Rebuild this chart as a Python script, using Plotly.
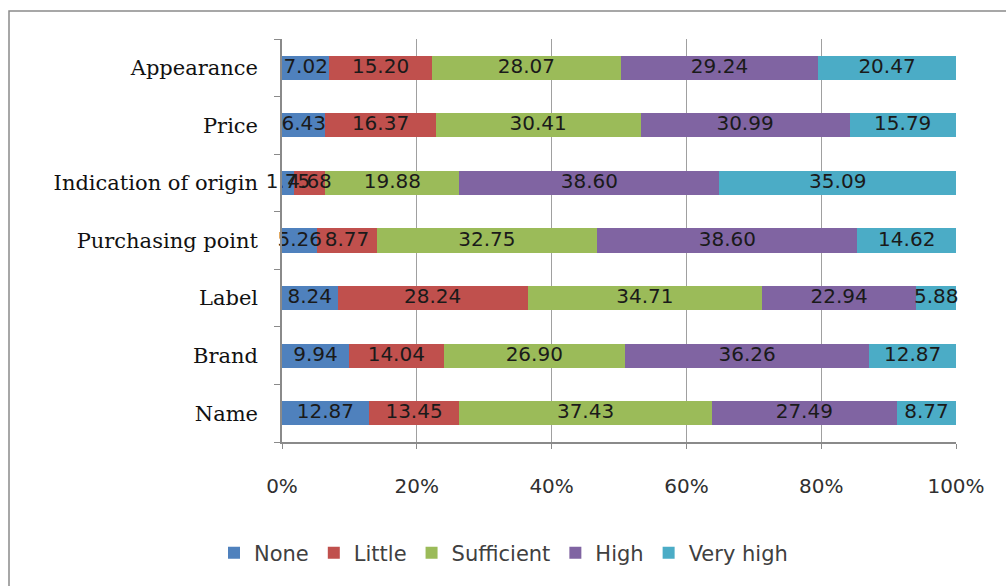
import plotly.graph_objects as go

# Attributes, listed bottom to top as they appear on the axis
attributes = ["Name", "Brand", "Label", "Purchasing point",
              "Indication of origin", "Price", "Appearance"]

# Share of respondents (%) per importance level
none_pct = [12.87, 9.94, 8.24, 5.26, 1.75, 6.43, 7.02]
little_pct = [13.45, 14.04, 28.24, 8.77, 4.68, 16.37, 15.20]
sufficient_pct = [37.43, 26.90, 34.71, 32.75, 19.88, 30.41, 28.07]
high_pct = [27.49, 36.26, 22.94, 38.60, 38.60, 30.99, 29.24]
very_high_pct = [8.77, 12.87, 5.88, 14.62, 35.09, 15.79, 20.47]

levels = ["None", "Little", "Sufficient", "High", "Very high"]
colors = ["#4F81BD", "#C0504D", "#9BBB59", "#8064A2", "#4BACC6"]
series = [none_pct, little_pct, sufficient_pct, high_pct, very_high_pct]

x_ticks = [0, 20, 40, 60, 80, 100]
x_tick_text = [f"{v}%" for v in x_ticks]

fig = go.Figure()
for name, color, vals in zip(levels, colors, series):
    fig.add_trace(go.Bar(
        y=attributes, x=vals, name=name, orientation="h",
        marker=dict(color=color, line=dict(width=0)),
        textposition="none",
    ))

# value labels centred on each segment (drawn unclipped, may overlap)
base = [0.0] * len(attributes)
for vals in series:
    mids = [b + v / 2 for b, v in zip(base, vals)]
    fig.add_trace(go.Scatter(
        x=mids, y=attributes, mode="text",
        text=[f"{v:.2f}" for v in vals], textposition="middle center",
        textfont=dict(family="DejaVu Sans", size=20, color="#1a1a1a"),
        showlegend=False, hoverinfo="skip", cliponaxis=False,
    ))
    base = [b + v for b, v in zip(base, vals)]

# page frame around the chart
L, R, T, B = 282, 50, 39, 144
W, H = 1006, 586
pw, ph = W - L - R, H - T - B
fig.add_shape(type="rect", xref="paper", yref="paper", layer="below",
              x0=(9 - L) / pw, x1=(W + 10 - L) / pw,
              y0=-(H + 10 - (H - B)) / ph, y1=((H - B) - 11) / ph,
              line=dict(color="#8a8a8a", width=1.5), fillcolor="rgba(0,0,0,0)")

fig.update_layout(
    width=W, height=H,
    margin=dict(l=L, r=R, t=T, b=B),
    barmode="stack", bargap=0.58,
    paper_bgcolor="white", plot_bgcolor="white",
    showlegend=True,
    legend=dict(orientation="h", x=(214 - L) / pw, xanchor="left",
                y=-(553 - (H - B)) / ph, yanchor="middle",
                font=dict(family="DejaVu Sans", size=21, color="#404040"),
                itemwidth=30, traceorder="normal"),
    xaxis=dict(range=[0, 100], tickvals=x_ticks, ticktext=x_tick_text,
               showgrid=True, gridcolor="#a0a0a0", gridwidth=1,
               zeroline=False, showline=True, linecolor="#8a8a8a", linewidth=1.5,
               ticks="outside", ticklen=5, tickcolor="#8a8a8a",
               ticklabelstandoff=20,
               tickfont=dict(family="DejaVu Sans", size=20, color="#303030")),
    yaxis=dict(type="category", categoryorder="array", categoryarray=attributes,
               showgrid=False, zeroline=False, showline=True,
               linecolor="#8a8a8a", linewidth=1.5,
               ticks="outside", ticklen=6, tickcolor="#8a8a8a",
               tickson="boundaries", ticklabelstandoff=18,
               tickfont=dict(family="DejaVu Serif", size=21, color="#111111")),
)

fig.write_html("out.html")
